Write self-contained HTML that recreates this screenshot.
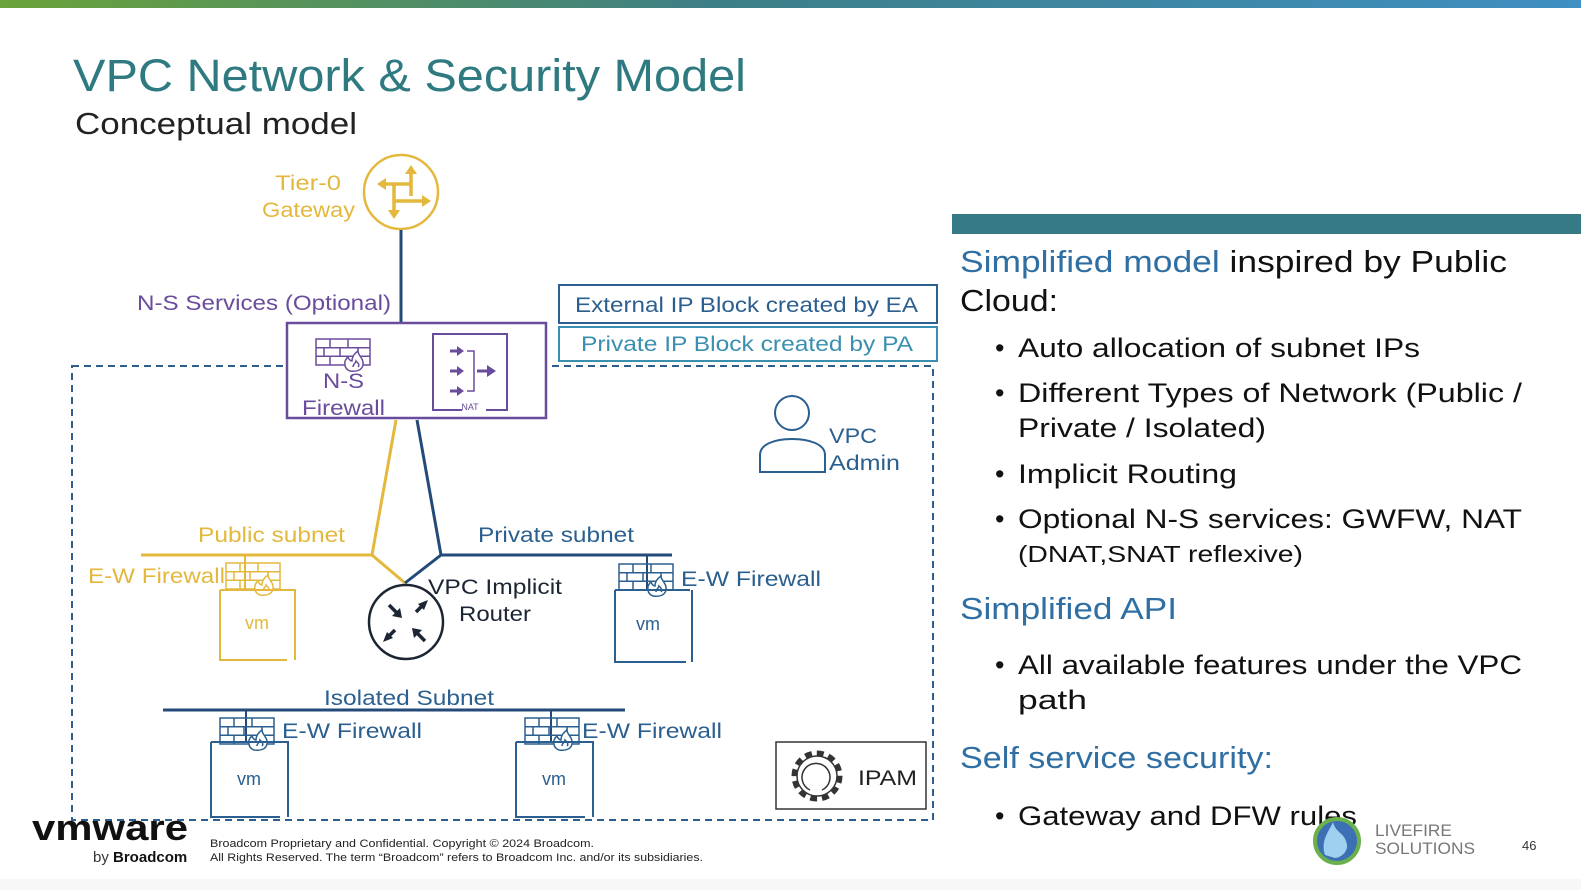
<!DOCTYPE html>
<html><head><meta charset="utf-8"><style>
html,body{margin:0;padding:0;background:#fff;}
svg{display:block;font-family:"Liberation Sans",sans-serif;}
</style></head><body>
<svg width="1581" height="890" viewBox="0 0 1581 890" xmlns="http://www.w3.org/2000/svg">
<defs>
<linearGradient id="tb" x1="0" x2="1"><stop offset="0" stop-color="#6aa33a"/><stop offset="0.45" stop-color="#3d7f86"/><stop offset="1" stop-color="#3f8fc2"/></linearGradient>
<g id="fw" fill="none" stroke-width="1.5">
<rect x="0" y="0" width="54" height="26"/>
<line x1="0" y1="8.7" x2="54" y2="8.7"/><line x1="0" y1="17.3" x2="54" y2="17.3"/>
<line x1="14" y1="0" x2="14" y2="8.7"/><line x1="32" y1="0" x2="32" y2="8.7"/>
<line x1="8" y1="8.7" x2="8" y2="17.3"/><line x1="24" y1="8.7" x2="24" y2="17.3"/><line x1="42" y1="8.7" x2="42" y2="17.3"/>
<line x1="14" y1="17.3" x2="14" y2="26"/><line x1="32" y1="17.3" x2="32" y2="26"/>
<path d="M34 32 c-6-2-7-10-2-14 c1 3 3 4 4 4 c0-5 3-8 6-10 c0 5 6 7 5 14 c-1 5-6 7-13 6z" fill="#fff"/>
<path d="M37 28 c0-3 3-4 3-6 c2 2 4 4 2 6"/>
</g>
</defs>
<rect x="0" y="0" width="1581" height="8" fill="url(#tb)"/>
<rect x="0" y="879" width="1581" height="11" fill="#f7f7f7"/>
<text x="73" y="91" font-size="45" fill="#2e7a80" textLength="673" lengthAdjust="spacingAndGlyphs">VPC Network &amp; Security Model</text>
<text x="75" y="134" font-size="31" fill="#222" textLength="282" lengthAdjust="spacingAndGlyphs">Conceptual model</text>

<!-- Tier0 -->
<circle cx="401" cy="192" r="37" fill="none" stroke="#e3b83d" stroke-width="2.5"/>
<g stroke="#e3b83d" stroke-width="3.5" fill="#e3b83d">
<line x1="411" y1="196" x2="411" y2="172"/><path d="M405 174 L411 165 L417 174Z" stroke="none"/>
<line x1="411" y1="184" x2="384" y2="184"/><path d="M386 178 L377 184 L386 190Z" stroke="none"/>
<line x1="394" y1="184" x2="394" y2="212"/><path d="M388 210 L394 219 L400 210Z" stroke="none"/>
<line x1="394" y1="201" x2="424" y2="201"/><path d="M422 195 L431 201 L422 207Z" stroke="none"/>
</g>
<text x="275" y="190" font-size="21" fill="#e3b83d" textLength="66" lengthAdjust="spacingAndGlyphs">Tier-0</text>
<text x="262" y="217" font-size="21" fill="#e3b83d" textLength="93" lengthAdjust="spacingAndGlyphs">Gateway</text>
<line x1="401" y1="230" x2="401" y2="323" stroke="#234a78" stroke-width="3"/>

<!-- dashed VPC -->
<rect x="72" y="366" width="861" height="454" fill="none" stroke="#2f5f8f" stroke-width="2" stroke-dasharray="7,5"/>
<text x="137" y="310" font-size="21" fill="#6a4c9c" textLength="254" lengthAdjust="spacingAndGlyphs">N-S Services (Optional)</text>
<rect x="287" y="323" width="259" height="95" fill="#fff" stroke="#6a4c9c" stroke-width="2.5"/>
<use href="#fw" x="316" y="339" stroke="#6a4c9c"/>
<text x="323" y="388" font-size="21" fill="#6a4c9c" textLength="41" lengthAdjust="spacingAndGlyphs">N-S</text>
<text x="302" y="415" font-size="21" fill="#6a4c9c" textLength="83" lengthAdjust="spacingAndGlyphs">Firewall</text>
<path d="M462 410 H433 V334 H507 V410 H486" fill="none" stroke="#6a4c9c" stroke-width="2"/>
<text x="470" y="410" font-size="9" fill="#6a4c9c" text-anchor="middle">NAT</text>
<g stroke="#6a4c9c" stroke-width="3" fill="#6a4c9c">
<line x1="450" y1="351" x2="458" y2="351"/><path d="M457 346 L464 351 L457 356Z" stroke="none"/>
<line x1="450" y1="371" x2="458" y2="371"/><path d="M457 366 L464 371 L457 376Z" stroke="none"/>
<line x1="450" y1="391" x2="458" y2="391"/><path d="M457 386 L464 391 L457 396Z" stroke="none"/>
<line x1="477" y1="371" x2="488" y2="371"/><path d="M487 365 L496 371 L487 377Z" stroke="none"/>
</g>
<path d="M467 351 H474 V391 H467" fill="none" stroke="#6a4c9c" stroke-width="1.5"/>

<!-- IP blocks -->
<rect x="559" y="285" width="378" height="38" fill="#fff" stroke="#2a5f8f" stroke-width="2"/>
<text x="575" y="312" font-size="21" fill="#2a5f8f" textLength="343" lengthAdjust="spacingAndGlyphs">External IP Block created by EA</text>
<rect x="559" y="327" width="378" height="34" fill="#fff" stroke="#3a8fb0" stroke-width="2"/>
<text x="581" y="351" font-size="21" fill="#3a8fb0" textLength="332" lengthAdjust="spacingAndGlyphs">Private IP Block created by PA</text>

<!-- VPC admin -->
<circle cx="792" cy="413" r="17" fill="none" stroke="#2a5f8f" stroke-width="2"/>
<path d="M760 472 V455 C760 444 775 439 792 439 C809 439 825 444 825 455 V472 Z" fill="none" stroke="#2a5f8f" stroke-width="2"/>
<text x="829" y="443" font-size="21" fill="#2a5f8f" textLength="48" lengthAdjust="spacingAndGlyphs">VPC</text>
<text x="829" y="470" font-size="21" fill="#2a5f8f" textLength="71" lengthAdjust="spacingAndGlyphs">Admin</text>

<!-- lines -->
<polyline points="396,420 372,555 405,583" fill="none" stroke="#e3b83d" stroke-width="3"/>
<polyline points="417,420 441,555 405,583" fill="none" stroke="#234a78" stroke-width="3"/>
<line x1="141" y1="555" x2="372" y2="555" stroke="#e3b83d" stroke-width="3"/>
<line x1="441" y1="555" x2="672" y2="555" stroke="#234a78" stroke-width="3"/>
<text x="198" y="542" font-size="21" fill="#e3b83d" textLength="147" lengthAdjust="spacingAndGlyphs">Public subnet</text>
<text x="478" y="542" font-size="21" fill="#2a5f8f" textLength="156" lengthAdjust="spacingAndGlyphs">Private subnet</text>

<!-- router -->
<circle cx="406" cy="622" r="37" fill="#fff" stroke="#1c2533" stroke-width="2.5"/>
<g stroke="#1c2533" stroke-width="3.5" fill="#1c2533">
<line x1="389" y1="605" x2="398" y2="614"/><path d="M402 618 L392 616 L400 608Z" stroke="none"/>
<line x1="425" y1="603" x2="416" y2="612"/><path d="M428 600 L418 604 L424 610Z" stroke="none"/>
<line x1="395" y1="630" x2="386" y2="639"/><path d="M383 642 L393 638 L387 632Z" stroke="none"/>
<line x1="425" y1="641" x2="416" y2="632"/><path d="M412 628 L422 630 L414 638Z" stroke="none"/>
</g>
<text x="428" y="594" font-size="21" fill="#1c2533" textLength="134" lengthAdjust="spacingAndGlyphs">VPC Implicit</text>
<text x="459" y="621" font-size="21" fill="#1c2533" textLength="72" lengthAdjust="spacingAndGlyphs">Router</text>

<!-- public vm -->
<line x1="245" y1="555" x2="245" y2="590" stroke="#e3b83d" stroke-width="2"/>
<use href="#fw" x="226" y="563" stroke="#e3b83d"/>
<path d="M220 590 H295 V660 M287 660 H220 V590" fill="none" stroke="#e3b83d" stroke-width="2"/>
<text x="257" y="629" font-size="18" fill="#e3b83d" text-anchor="middle">vm</text>
<text x="88" y="583" font-size="21" fill="#e3b83d" textLength="137" lengthAdjust="spacingAndGlyphs">E-W Firewall</text>

<!-- private vm -->
<line x1="647" y1="555" x2="647" y2="590" stroke="#234a78" stroke-width="2"/>
<use href="#fw" x="619" y="564" stroke="#2a5f8f"/>
<path d="M615 590 H690 M615 590 V662 H686 M692 590 V662" fill="none" stroke="#2a5f8f" stroke-width="2"/>
<text x="648" y="630" font-size="18" fill="#2a5f8f" text-anchor="middle">vm</text>
<text x="681" y="586" font-size="21" fill="#2a5f8f" textLength="140" lengthAdjust="spacingAndGlyphs">E-W Firewall</text>

<!-- isolated -->
<line x1="163" y1="710" x2="625" y2="710" stroke="#234a78" stroke-width="3"/>
<text x="324" y="705" font-size="21" fill="#2a5f8f" textLength="170" lengthAdjust="spacingAndGlyphs">Isolated Subnet</text>
<line x1="246" y1="710" x2="246" y2="742" stroke="#234a78" stroke-width="2"/>
<use href="#fw" x="220" y="718" stroke="#2a5f8f"/>
<path d="M211 742 H288 V817 M280 817 H211 V742" fill="none" stroke="#2a5f8f" stroke-width="2"/>
<text x="249" y="785" font-size="18" fill="#2a5f8f" text-anchor="middle">vm</text>
<text x="282" y="738" font-size="21" fill="#2a5f8f" textLength="140" lengthAdjust="spacingAndGlyphs">E-W Firewall</text>
<line x1="551" y1="710" x2="551" y2="742" stroke="#234a78" stroke-width="2"/>
<use href="#fw" x="525" y="718" stroke="#2a5f8f"/>
<path d="M516 742 H593 V817 M585 817 H516 V742" fill="none" stroke="#2a5f8f" stroke-width="2"/>
<text x="554" y="785" font-size="18" fill="#2a5f8f" text-anchor="middle">vm</text>
<text x="582" y="738" font-size="21" fill="#2a5f8f" textLength="140" lengthAdjust="spacingAndGlyphs">E-W Firewall</text>

<!-- IPAM -->
<rect x="776" y="742" width="150" height="67" fill="#fff" stroke="#333" stroke-width="1.5"/>
<circle cx="817" cy="776" r="23" fill="none" stroke="#333" stroke-width="5" stroke-dasharray="7,5"/>
<circle cx="817" cy="776" r="20" fill="#fff" stroke="#333" stroke-width="1.5"/>
<path d="M810 790 A14 14 0 1 1 822 790" fill="none" stroke="#333" stroke-width="1.5"/>
<text x="858" y="785" font-size="21" fill="#222" textLength="59" lengthAdjust="spacingAndGlyphs">IPAM</text>

<!-- right panel -->
<rect x="952" y="214" width="629" height="20" fill="#357a84"/>
<g font-size="31" fill="#111">
<text x="960" y="272" textLength="547" lengthAdjust="spacingAndGlyphs"><tspan fill="#2f6fa3">Simplified model</tspan> inspired by Public</text>
<text x="960" y="311" textLength="98" lengthAdjust="spacingAndGlyphs">Cloud:</text>
<text x="960" y="619" fill="#2f6fa3" textLength="217" lengthAdjust="spacingAndGlyphs">Simplified API</text>
<text x="960" y="768" fill="#2f6fa3" textLength="313" lengthAdjust="spacingAndGlyphs">Self service security:</text>
</g>
<g font-size="27" fill="#111">
<text x="995" y="357">•</text><text x="1018" y="357" textLength="402" lengthAdjust="spacingAndGlyphs">Auto allocation of subnet IPs</text>
<text x="995" y="402">•</text><text x="1018" y="402" textLength="504" lengthAdjust="spacingAndGlyphs">Different Types of Network (Public /</text>
<text x="1018" y="437" textLength="248" lengthAdjust="spacingAndGlyphs">Private / Isolated)</text>
<text x="995" y="483">•</text><text x="1018" y="483" textLength="219" lengthAdjust="spacingAndGlyphs">Implicit Routing</text>
<text x="995" y="528">•</text><text x="1018" y="528" textLength="504" lengthAdjust="spacingAndGlyphs">Optional N-S services: GWFW, NAT</text>
<text x="1018" y="562" font-size="23" textLength="285" lengthAdjust="spacingAndGlyphs">(DNAT,SNAT reflexive)</text>
<text x="995" y="674">•</text><text x="1018" y="674" textLength="504" lengthAdjust="spacingAndGlyphs">All available features under the VPC</text>
<text x="1018" y="709" textLength="69" lengthAdjust="spacingAndGlyphs">path</text>
<text x="995" y="825">•</text><text x="1018" y="825" textLength="339" lengthAdjust="spacingAndGlyphs">Gateway and DFW rules</text>
</g>

<!-- footer -->
<text x="32" y="840" font-size="36" font-weight="bold" fill="#111" textLength="156" lengthAdjust="spacingAndGlyphs">vmware</text>
<text x="93" y="862" font-size="15" fill="#333">by <tspan font-weight="bold" fill="#111">Broadcom</tspan></text>
<text x="210" y="847" font-size="11" fill="#222" textLength="384" lengthAdjust="spacingAndGlyphs">Broadcom Proprietary and Confidential. Copyright © 2024 Broadcom.</text>
<text x="210" y="861" font-size="11" fill="#222" textLength="493" lengthAdjust="spacingAndGlyphs">All Rights Reserved. The term “Broadcom” refers to Broadcom Inc. and/or its subsidiaries.</text>
<circle cx="1337" cy="841" r="22" fill="#3d6fb5" stroke="#6ab04c" stroke-width="4"/>
<path d="M1325 855 C1320 840 1330 830 1333 822 C1336 834 1345 832 1347 845 C1348 852 1340 858 1335 858Z" fill="#9fd0ef"/>
<text x="1375" y="836" font-size="17" fill="#777" textLength="77" lengthAdjust="spacingAndGlyphs">LIVEFIRE</text>
<text x="1375" y="854" font-size="17" fill="#777" textLength="100" lengthAdjust="spacingAndGlyphs">SOLUTIONS</text>
<text x="1522" y="850" font-size="13" fill="#333">46</text>
</svg>
</body></html>
